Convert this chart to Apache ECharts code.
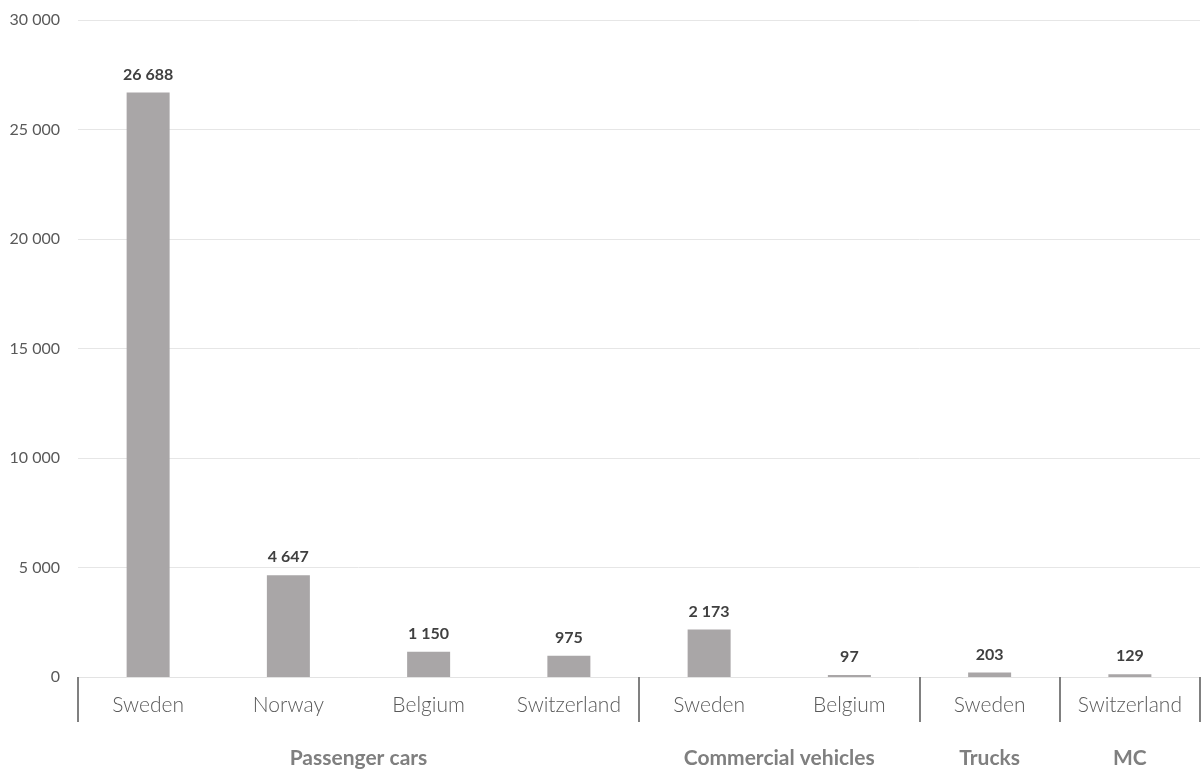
<!DOCTYPE html>
<html>
<head>
<meta charset="utf-8">
<script src="https://cdn.jsdelivr.net/npm/echarts@6/dist/echarts.min.js"></script>
<style>html,body{margin:0;padding:0;background:#fff}#c{width:1203px;height:773px}</style>
</head>
<body>
<div id="c"></div>
<script>
const categories = ['Sweden','Norway','Belgium','Switzerland','Sweden','Belgium','Sweden','Switzerland'];
const values = [26688, 4647, 1150, 975, 2173, 97, 203, 129];
const groups = ['Passenger cars','Commercial vehicles','Trucks','MC'];
const groupSizes = [4, 2, 1, 1];
const yTicks = [0, 5000, 10000, 15000, 20000, 25000, 30000];

const fmt = v => String(v).replace(/\B(?=(\d{3})+(?!\d))/g, ' ');

// group boundaries and centres in category units
const bounds = [0];
groupSizes.forEach(s => bounds.push(bounds[bounds.length-1] + s));
const centers = groupSizes.map((s, i) => bounds[i] + s / 2);

const chart = echarts.init(document.getElementById('c'));
chart.setOption({
  animation: false,
  grid: { left: 78, right: 3, top: 20, bottom: 96, containLabel: false },
  xAxis: [
    {
      type: 'category',
      data: categories,
      axisLine: { show: true, lineStyle: { color: '#e3e3e3', width: 1 } },
      axisTick: { show: false },
      axisLabel: { color: '#595959', fontFamily: 'Lato', fontWeight: 300, fontSize: 21, margin: 18 }
    },
    {
      type: 'value',
      min: 0, max: bounds[bounds.length-1],
      position: 'bottom',
      splitLine: { show: false },
      axisLine: { show: false },
      axisTick: { show: true, customValues: bounds, length: 45, lineStyle: { color: '#808080', width: 2 } },
      axisLabel: {
        show: true, customValues: centers, margin: 71,
        formatter: v => { const i = centers.indexOf(v); return i >= 0 ? groups[i] : ''; },
        color: '#7f7f7f', fontFamily: 'Lato', fontWeight: 'bold', fontSize: 21
      }
    }
  ],
  yAxis: {
    type: 'value', min: yTicks[0], max: yTicks[yTicks.length-1], interval: yTicks[1] - yTicks[0],
    axisLine: { show: false }, axisTick: { show: false },
    splitLine: { lineStyle: { color: '#e6e6e6', width: 1 } },
    axisLabel: { color: '#595959', fontFamily: 'Lato', fontSize: 16, margin: 18, formatter: fmt }
  },
  series: [{
    type: 'bar',
    xAxisIndex: 0,
    data: values,
    barWidth: 43,
    itemStyle: { color: '#a9a6a7' },
    label: {
      show: true, position: 'top', distance: 10,
      color: '#404040', fontFamily: 'Lato', fontWeight: 'bold', fontSize: 16,
      formatter: p => fmt(p.value)
    }
  }]
});
</script>
</body>
</html>
